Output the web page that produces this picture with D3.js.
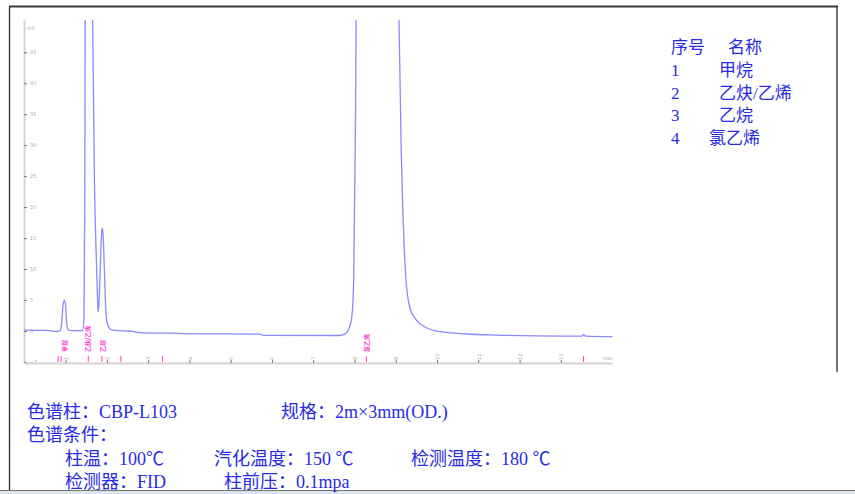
<!DOCTYPE html>
<html>
<head>
<meta charset="utf-8">
<script src="https://cdn.jsdelivr.net/npm/d3@7"></script>
<style>
    body { margin: 0; background: #fff; }
    #svg { display: block; background-color: #fff; }
    .trace { fill: none; stroke: #8a8aff; stroke-width: 1.3; }
    .axis-y path, .axis-x path { stroke: #d4d4d4; stroke-width: 2; }
    .axis-y line, .axis-x line { stroke: #777; }
    .axis-y text, .axis-x text { fill: #aaa; font-family: "DejaVu Sans"; font-size: 5px; }
    .event-mark { stroke: #ff3fd2; stroke-width: 1; }
    .peak-label { fill: #ff3fd2; font-family: "Noto Sans CJK SC"; font-size: 6px; font-weight: bold; }
    .info { fill: #2a2ae6; font-family: "Liberation Serif", "Noto Sans CJK SC"; }
</style>
</head>
<body>
<svg id="svg" width="855" height="494"></svg>
<script>
// chromatogram: time (min) / signal (mV)
const times = [0.00, 0.40, 0.62, 0.77, 0.86, 0.90, 0.94, 0.97, 1.00, 1.03, 1.07, 1.23, 1.41,
    1.445, 1.465, 1.475, 1.56, 1.656, 1.70, 1.753, 1.775, 1.79, 1.81, 1.84, 1.87, 1.89, 1.91,
    1.94, 1.97, 2.00, 2.05, 2.12, 2.30, 2.55, 2.80, 3.50, 4.25, 5.70, 5.80, 7.64, 7.76, 7.86,
    7.93, 7.98, 8.02, 8.04, 8.55, 9.08, 9.13, 9.17, 9.24, 9.34, 9.50, 9.70, 10.07, 10.71,
    11.44, 13.13, 13.50, 13.55, 13.60, 14.25];
const signal = [0.15, 0.10, 0.05, -0.08, 0.02, 1.0, 4.2, 5.0, 4.2, 1.0, 0.15, 0.05, 0.08,
    1.8, 20, 50, 160, 50, 24, 10, 5, 3.1, 4.5, 10, 15.5, 16.6, 15.5,
    10, 4, 1.5, 0.6, 0.2, 0.05, 0.0, -0.25, -0.35, -0.45, -0.5, -0.7, -0.72, -0.5, 0.3,
    2, 8, 30, 50, 700, 50, 30, 20, 9, 3.8, 1.77, 0.69, -0.11, -0.48,
    -0.65, -0.81, -0.82, -0.6, -0.82, -0.92];

const yTicks = [-5, 0, 5, 10, 15, 20, 25, 30, 35, 40, 45];
const xTicks = [1, 2, 3, 4, 5, 6, 7, 8, 9, 10, 11, 12, 13];
const eventTimes = [0.82, 0.89, 1.55, 1.88, 2.34, 3.35, 8.29, 13.55];

const peakNames = ['甲烷', '乙炔/乙烯', '乙烷', '氯乙烯'];
const peakTimes = [0.985, 1.55, 1.905, 8.30];
const legendHeader = ['序号', '名称'];
const legendNumbers = ['1', '2', '3', '4'];

const infoLines = [
    ['色谱柱：CBP-L103', '规格：2m×3mm(OD.)'],
    ['色谱条件：'],
    ['柱温：100℃', '汽化温度：150 ℃', '检测温度：180 ℃'],
    ['检测器：FID', '柱前压：0.1mpa']
];

const svg = d3.select('#svg');

// frame
svg.append('line').attr('x1', 9).attr('x2', 838).attr('y1', 6.5).attr('y2', 6.5)
    .attr('stroke', '#3a3a3a').attr('stroke-width', 2.2);
svg.append('line').attr('x1', 9.5).attr('x2', 9.5).attr('y1', 6).attr('y2', 490)
    .attr('stroke', '#3a3a3a').attr('stroke-width', 1.4);
svg.append('line').attr('x1', 837).attr('x2', 837).attr('y1', 6).attr('y2', 372)
    .attr('stroke', '#3a3a3a').attr('stroke-width', 1.4);
svg.append('line').attr('x1', 0).attr('x2', 855).attr('y1', 490.5).attr('y2', 490.5)
    .attr('stroke', '#777').attr('stroke-width', 1);
svg.append('rect').attr('x', 0).attr('y', 491).attr('width', 855).attr('height', 3)
    .attr('fill', '#dbe5ee');

const xScale = d3.scaleLinear().domain([0, 14.24]).range([24.3, 612]);
const yScale = d3.scaleLinear().domain([-5, 50.2]).range([362, 20]);

// y axis
const yAxis = d3.axisRight(yScale).tickValues(yTicks).tickSize(3).tickSizeOuter(0);
svg.append('g')
    .attr('class', 'axis-y')
    .attr('transform', 'translate(24,0)')
    .call(yAxis);
svg.append('text').attr('x', 27).attr('y', 30)
    .attr('fill', '#aaa').attr('font-size', 5).attr('font-family', 'DejaVu Sans')
    .text('mV');

// x axis, labels sit above the line
const xAxis = d3.axisTop(xScale).tickValues(xTicks).tickSize(3).tickSizeOuter(0);
const gx = svg.append('g')
    .attr('class', 'axis-x')
    .attr('transform', 'translate(0,363)')
    .call(xAxis);
gx.selectAll('text')
    .attr('transform', 'rotate(-90)')
    .attr('text-anchor', 'start')
    .attr('x', 3)
    .attr('y', 0)
    .attr('dy', '0.35em');
svg.append('text').attr('x', 603).attr('y', 360)
    .attr('fill', '#aaa').attr('font-size', 5).attr('font-family', 'DejaVu Sans')
    .text('min');

// event marks
svg.append('g').selectAll('line')
    .data(eventTimes)
    .enter().append('line')
    .attr('class', 'event-mark')
    .attr('x1', d => xScale(d)).attr('x2', d => xScale(d))
    .attr('y1', 356).attr('y2', 362);

// peak labels
svg.append('g').selectAll('text')
    .data(peakNames)
    .enter().append('text')
    .attr('class', 'peak-label')
    .attr('transform', (d, i) => 'translate(' + (xScale(peakTimes[i]) + 2) + ',352) rotate(-90)')
    .text(d => d);

// trace
svg.append('clipPath').attr('id', 'plot-clip')
    .append('rect').attr('x', 24).attr('y', 20).attr('width', 600).attr('height', 342);

const line = d3.line()
    .x((d, i) => xScale(times[i]))
    .y(d => yScale(d))
    .curve(d3.curveMonotoneX);

svg.append('path')
    .datum(signal)
    .attr('class', 'trace')
    .attr('clip-path', 'url(#plot-clip)')
    .attr('d', line);

// legend
const legend = svg.append('g').attr('class', 'info').attr('font-size', 17);
legend.append('text').attr('x', 671).attr('y', 53).text(legendHeader[0]);
legend.append('text').attr('x', 728).attr('y', 53).text(legendHeader[1]);
const nameX = [719, 719, 719, 709];
legendNumbers.forEach((n, i) => {
    const y = 76 + i * 22.5;
    legend.append('text').attr('x', 671).attr('y', y).text(n);
    legend.append('text').attr('x', nameX[i]).attr('y', y).text(peakNames[i]);
});

// conditions below the chart
const info = svg.append('g').attr('class', 'info').attr('font-size', 18);
const lineX = [[27, 281], [27], [65, 214, 411], [65, 224]];
infoLines.forEach((row, r) => {
    row.forEach((t, c) => {
        info.append('text')
            .attr('x', lineX[r][c])
            .attr('y', 418 + r * 23.3)
            .text(t);
    });
});
</script>
</body>
</html>
